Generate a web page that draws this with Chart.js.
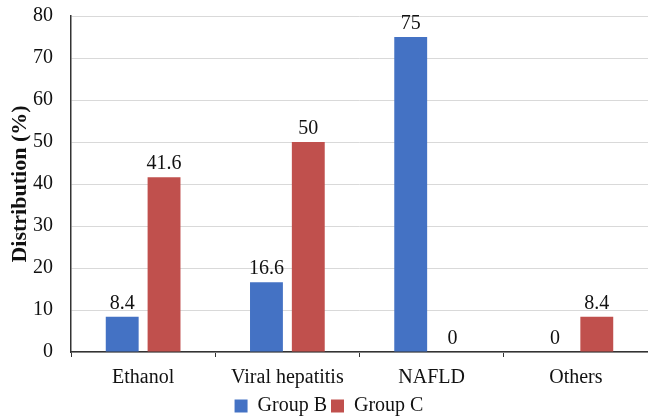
<!DOCTYPE html>
<html>
<head>
<meta charset="utf-8">
<script src="https://cdn.jsdelivr.net/npm/chart.js@4/dist/chart.umd.min.js"></script>
<style>
  html, body { margin: 0; padding: 0; background: #fff; }
  #wrap { width: 648px; height: 420px; }
</style>
</head>
<body>
<div id="wrap"><canvas id="c" width="648" height="420"></canvas></div>
<script>
const categories = ["Ethanol", "Viral hepatitis", "NAFLD", "Others"];
const groupB = [8.4, 16.6, 75, 0];
const groupC = [41.6, 50, 0, 8.4];
const seriesNames = ["Group B", "Group C"];

const FONT = "'Liberation Serif', 'Times New Roman', serif";

// Writes each bar's value just above its top
const valueLabels = {
  id: 'valueLabels',
  afterDatasetsDraw(chart) {
    const ctx = chart.ctx;
    ctx.save();
    ctx.font = "20px " + FONT;
    ctx.fillStyle = "#111";
    ctx.textAlign = "center";
    ctx.textBaseline = "alphabetic";
    chart.data.datasets.forEach((ds, i) => {
      const meta = chart.getDatasetMeta(i);
      meta.data.forEach((bar, j) => {
        ctx.fillText(String(ds.data[j]), bar.x, bar.y - 8);
      });
    });
    ctx.restore();
  }
};

new Chart(document.getElementById('c'), {
  type: 'bar',
  data: {
    labels: categories,
    datasets: [
      { label: seriesNames[0], data: groupB, backgroundColor: '#4472C4',
        categoryPercentage: 0.58, barPercentage: 0.786 },
      { label: seriesNames[1], data: groupC, backgroundColor: '#C0504D',
        categoryPercentage: 0.58, barPercentage: 0.786 }
    ]
  },
  options: {
    responsive: false,
    animation: false,
    layout: { padding: { left: 7, right: -3, top: 16, bottom: -6 } },
    plugins: {
      legend: {
        position: 'bottom',
        labels: {
          font: { family: FONT, size: 20 },
          color: '#111',
          boxWidth: 13, boxHeight: 13,
          padding: 4
        }
      },
      tooltip: { enabled: false }
    },
    scales: {
      x: {
        grid: { display: true, drawOnChartArea: false, drawTicks: true, tickLength: 5, color: '#333', offset: true },
        border: { display: true, color: '#333', width: 1.5 },
        ticks: { font: { family: FONT, size: 20 }, color: '#111', padding: 9 },
        afterFit(scale) { scale.height = 40; scale.paddingLeft = 0; scale.paddingRight = 0; }
      },
      y: {
        min: 0, max: 80,
        ticks: { stepSize: 10, font: { family: FONT, size: 20 }, color: '#111', padding: 18 },
        grid: { color: '#d9d9d9', drawTicks: false },
        border: { display: true, color: '#333', width: 1.5 },
        title: { display: true, text: 'Distribution (%)', font: { family: FONT, size: 22, weight: 'bold' }, color: '#111', padding: { top: 0, bottom: 0 } },
        afterFit(scale) { scale.width = 64; scale.paddingTop = 0; scale.paddingBottom = 0; }
      }
    }
  },
  plugins: [valueLabels]
});
</script>
</body>
</html>
